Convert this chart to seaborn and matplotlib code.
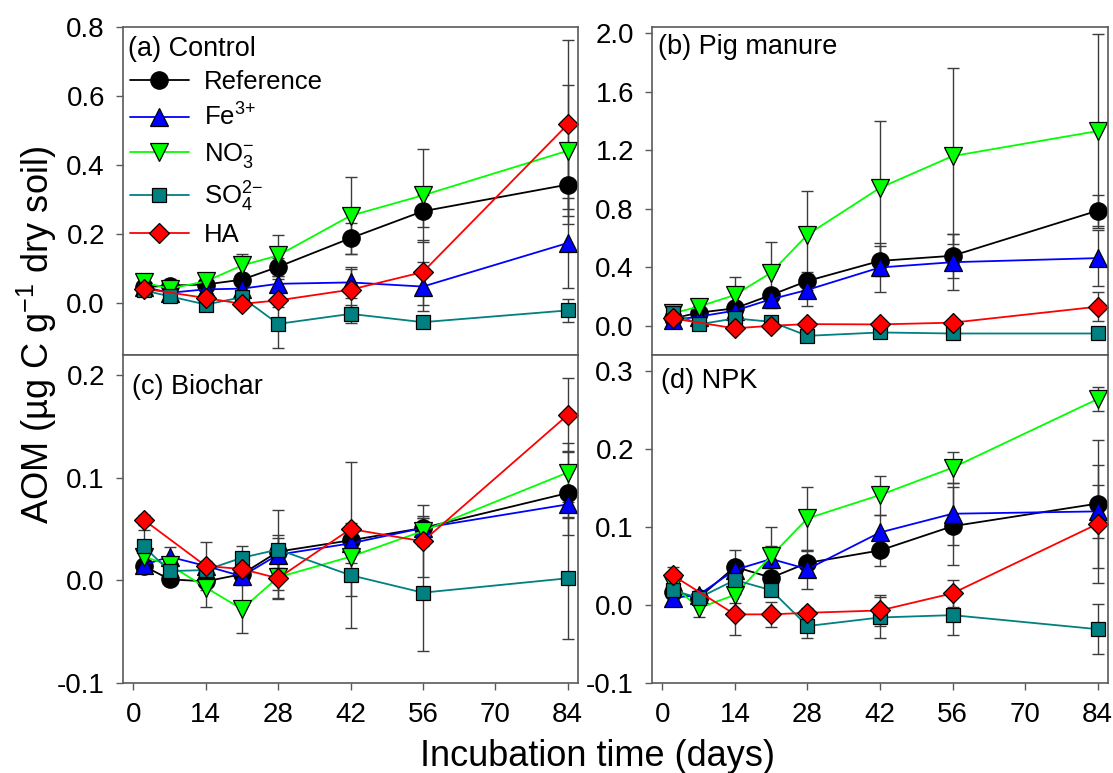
import numpy as np
import pandas as pd
import matplotlib
matplotlib.use("Agg")
import matplotlib.pyplot as plt
import seaborn as sns

# ---------------- data ----------------
days = [2, 7, 14, 21, 28, 42, 56, 84]
series = ["Reference", "Fe3+", "NO3-", "SO42-", "HA"]
series_labels = ["Reference", r"Fe$^{3\!+}$", r"NO$_3^{-}$", r"SO$_4^{2\!-}$", "HA"]
nan = np.nan

# (a) Control
a_ref = [0.046, 0.051, 0.054, 0.068, 0.105, 0.188, 0.266, 0.343]
a_ref_err = [0.008, 0.006, 0.010, 0.012, 0.025, 0.045, 0.046, 0.113]
a_fe = [0.047, 0.030, 0.040, 0.042, 0.056, 0.060, 0.048, 0.174]
a_fe_err = [0.006, 0.006, 0.008, 0.010, 0.015, 0.045, 0.072, 0.130]
a_no3 = [0.060, 0.042, 0.063, 0.109, 0.138, 0.253, 0.312, 0.441]
a_no3_err = [0.008, 0.008, 0.015, 0.034, 0.058, 0.112, 0.134, 0.190]
a_so4 = [0.037, 0.020, -0.004, 0.017, -0.060, -0.031, -0.055, -0.021]
a_so4_err = [0.006, 0.006, 0.008, 0.010, 0.070, 0.027, 0.010, 0.033]
a_ha = [0.042, nan, 0.015, -0.002, 0.008, 0.039, 0.090, 0.517]
a_ha_err = [0.008, nan, 0.010, 0.010, 0.020, 0.060, 0.094, 0.244]

# (b) Pig manure
b_ref = [0.050, 0.089, 0.119, 0.210, 0.306, 0.443, 0.478, 0.786]
b_ref_err = [0.020, 0.020, 0.030, 0.040, 0.060, 0.100, 0.150, 0.107]
b_fe = [0.039, 0.062, 0.103, 0.181, 0.245, 0.398, 0.434, 0.462]
b_fe_err = [0.010, 0.020, 0.030, 0.060, 0.110, 0.170, 0.190, 0.190]
b_no3 = [0.085, 0.130, 0.210, 0.363, 0.622, 0.942, 1.159, 1.330]
b_no3_err = [0.020, 0.050, 0.125, 0.210, 0.300, 0.460, 0.600, 0.660]
b_so4 = [0.089, 0.009, 0.050, 0.027, -0.069, -0.046, -0.053, -0.053]
b_so4_err = [0.010, 0.010, 0.010, 0.010, 0.010, 0.010, 0.010, 0.010]
b_ha = [0.050, nan, -0.018, 0.000, 0.011, 0.009, 0.021, 0.130]
b_ha_err = [0.010, nan, 0.010, 0.010, 0.010, 0.010, 0.010, 0.100]

# (c) Biochar
c_ref = [0.014, 0.001, -0.001, 0.006, 0.028, 0.039, 0.051, 0.085]
c_ref_err = [0.004, 0.006, 0.004, 0.010, 0.016, 0.008, 0.010, 0.041]
c_fe = [0.015, 0.023, 0.014, 0.004, 0.025, 0.036, 0.051, 0.074]
c_fe_err = [0.004, 0.009, 0.005, 0.006, 0.016, 0.006, 0.010, 0.012]
c_no3 = [0.023, 0.015, -0.007, -0.028, 0.003, 0.023, 0.048, 0.105]
c_no3_err = [0.005, 0.005, 0.019, 0.023, 0.020, 0.006, 0.015, 0.029]
c_so4 = [0.033, 0.009, 0.010, 0.022, 0.030, 0.005, -0.012, 0.002]
c_so4_err = [0.016, 0.005, 0.004, 0.011, 0.039, 0.051, 0.057, 0.059]
c_ha = [0.059, nan, 0.014, 0.011, 0.002, 0.050, 0.038, 0.161]
c_ha_err = [0.005, nan, 0.023, 0.012, 0.020, 0.065, 0.035, 0.036]

# (d) NPK
d_ref = [0.017, 0.009, 0.049, 0.035, 0.054, 0.070, 0.101, 0.130]
d_ref_err = [0.005, 0.005, 0.021, 0.012, 0.015, 0.020, 0.050, 0.082]
d_fe = [0.009, 0.013, 0.045, 0.059, 0.046, 0.093, 0.117, 0.120]
d_fe_err = [0.004, 0.005, 0.010, 0.016, 0.025, 0.023, 0.040, 0.034]
d_no3 = [0.026, -0.004, 0.013, 0.063, 0.111, 0.141, 0.176, 0.264]
d_no3_err = [0.005, 0.012, 0.010, 0.037, 0.040, 0.025, 0.020, 0.015]
d_so4 = [0.019, 0.009, 0.032, 0.019, -0.027, -0.016, -0.013, -0.031]
d_so4_err = [0.005, 0.005, 0.006, 0.006, 0.015, 0.026, 0.025, 0.032]
d_ha = [0.038, nan, -0.012, -0.012, -0.010, -0.007, 0.015, 0.104]
d_ha_err = [0.011, nan, 0.026, 0.016, 0.006, 0.020, 0.017, 0.076]

panel_titles = ["(a) Control", "(b) Pig manure", "(c) Biochar", "(d) NPK"]
panel_values = [
    [a_ref, a_fe, a_no3, a_so4, a_ha],
    [b_ref, b_fe, b_no3, b_so4, b_ha],
    [c_ref, c_fe, c_no3, c_so4, c_ha],
    [d_ref, d_fe, d_no3, d_so4, d_ha],
]
panel_errors = [
    [a_ref_err, a_fe_err, a_no3_err, a_so4_err, a_ha_err],
    [b_ref_err, b_fe_err, b_no3_err, b_so4_err, b_ha_err],
    [c_ref_err, c_fe_err, c_no3_err, c_so4_err, c_ha_err],
    [d_ref_err, d_fe_err, d_no3_err, d_so4_err, d_ha_err],
]
x_ticks = [0, 14, 28, 42, 56, 70, 84]
y_ticks = [
    [0.0, 0.2, 0.4, 0.6, 0.8],
    [0.0, 0.4, 0.8, 1.2, 1.6, 2.0],
    [-0.1, 0.0, 0.1, 0.2],
    [-0.1, 0.0, 0.1, 0.2, 0.3],
]

# ---------------- styles ----------------
colors = {"Reference": "#000000", "Fe3+": "#0000FF", "NO3-": "#00FF00",
          "SO42-": "#008080", "HA": "#FF0000"}
markers = {"Reference": "o", "Fe3+": "^", "NO3-": "v", "SO42-": "s", "HA": "D"}
msizes = {"Reference": 12.5, "Fe3+": 12.5, "NO3-": 12.5, "SO42-": 10.5, "HA": 10.5}
y_limits = [(-0.15, 0.8), (-0.2, 2.043), (-0.1, 0.2195), (-0.1, 0.3205)]
title_pos = [(0.011, 0.912), (0.013, 0.918), (0.02, 0.882), (0.02, 0.898)]

sns.set_theme(style="ticks")
plt.rcParams.update({
    "font.family": ["Liberation Sans", "DejaVu Sans"],
    "text.color": "black",
    "axes.labelcolor": "black",
    "xtick.color": "black",
    "ytick.color": "black",
    "axes.unicode_minus": False,
    "mathtext.fontset": "custom",
    "mathtext.rm": "Liberation Sans",
    "mathtext.it": "Liberation Sans:italic",
    "mathtext.bf": "Liberation Sans:bold",
    "mathtext.sf": "Liberation Sans",
})

W, H = 1113, 773
fig = plt.figure(figsize=(W / 100, H / 100), dpi=100)
fig.patch.set_facecolor("white")

rects = [
    (123, 26.7, 578, 355),
    (652, 26.7, 1108, 355),
    (123, 355, 578, 683),
    (652, 355, 1108, 683),
]

frame_col = "#5a5a5a"
for i, (x0, y0, x1, y1) in enumerate(rects):
    ax = fig.add_axes([x0 / W, 1 - y1 / H, (x1 - x0) / W, (y1 - y0) / H])
    ax.set_facecolor("white")
    rows = []
    for s, vals, errs in zip(series, panel_values[i], panel_errors[i]):
        for d, v, e in zip(days, vals, errs):
            rows.append({"day": d, "value": v, "err": e, "series": s})
    df = pd.DataFrame(rows).dropna()

    # error bars first (behind everything)
    for s in series:
        sub = df[df["series"] == s]
        ax.errorbar(sub["day"], sub["value"], yerr=sub["err"], fmt="none",
                    ecolor="#3c3c3c", elinewidth=1.0, capsize=4, capthick=1.0,
                    zorder=1.5)
    handles = []
    for s in series:
        sub = df[df["series"] == s]
        sns.lineplot(data=sub, x="day", y="value", ax=ax, color=colors[s],
                     marker=markers[s], markersize=msizes[s],
                     markeredgecolor="black", markeredgewidth=0.9,
                     linewidth=1.3, errorbar=None, legend=False, sort=True)
        handles.append(ax.lines[-1])

    ax.set_xlim(-2, 86)
    ax.set_ylim(*y_limits[i])
    ax.set_xticks(x_ticks)
    ax.set_yticks(y_ticks[i])
    ax.set_yticklabels([f"{t:.1f}" for t in y_ticks[i]])
    ax.set_xlabel("")
    ax.set_ylabel("")
    for sp in ax.spines.values():
        sp.set_visible(True)
        sp.set_color(frame_col)
        sp.set_linewidth(1.2)
    ax.tick_params(axis="both", direction="out", length=5, width=1.0,
                   color=frame_col, labelcolor="black", labelsize=20)
    ax.tick_params(axis="y", pad=8)
    ax.tick_params(axis="x", pad=9)
    if i < 2:
        ax.tick_params(axis="x", labelbottom=False)
    ax.text(title_pos[i][0], title_pos[i][1], panel_titles[i],
            transform=ax.transAxes, ha="left", va="baseline", fontsize=19.5,
            color="black")
    if i == 0:
        leg = ax.legend(handles=handles, labels=series_labels, loc="upper left",
                        bbox_to_anchor=(0.015, 0.868), frameon=False,
                        fontsize=18.5, handlelength=2.3, handletextpad=0.6,
                        labelspacing=0.38, borderaxespad=0, borderpad=0,
                        numpoints=1)
        for t in leg.get_texts():
            t.set_color("black")

fig.text(0.033, 1 - 335 / H, "AOM (µg C g$^{-1}$ dry soil)", rotation=90,
         ha="center", va="center", fontsize=26, color="black")
fig.text(0.537, 0.009, "Incubation time (days)", ha="center", va="baseline",
         fontsize=26, color="black")

fig.savefig("out.png", dpi=100, facecolor="white")
